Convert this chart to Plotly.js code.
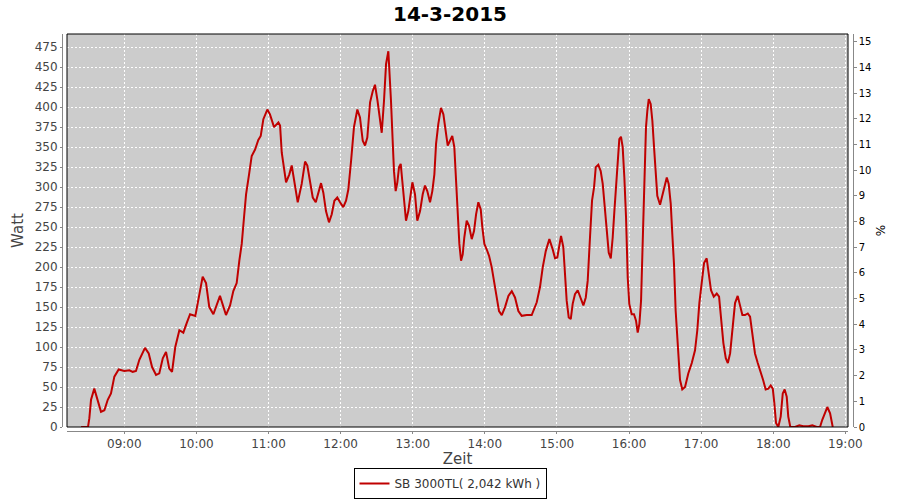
<!DOCTYPE html>
<html>
<head>
<meta charset="utf-8">
<script src="https://cdn.plot.ly/plotly-3.0.1.min.js"></script>
<style>html,body{margin:0;padding:0;background:#fff;}#chart{width:900px;height:500px;}</style>
</head>
<body>
<div id="chart"></div>
<script>
const chartTitle = '14-3-2015';
const dateStr = '2015-03-14';
const seriesName = 'SB 3000TL( 2,042 kWh )';
const xTitle = 'Zeit';
const yTitle = 'Watt';
const y2Title = '%';

const times = [
'08:24:00','08:29:48','08:30:54','08:32:18','08:35:00','08:37:54','08:40:36','08:43:24','08:46:12','08:48:54',
'08:51:42','08:55:18','09:00:00','09:04:12','09:07:00','09:09:42','09:12:30','09:17:12','09:20:18','09:23:06',
'09:26:24','09:29:06','09:32:00','09:34:42','09:37:24','09:39:42','09:42:24','09:45:48','09:49:06','09:51:54',
'09:54:42','09:59:06','10:01:54','10:05:12','10:08:00','10:10:42','10:14:06','10:16:54','10:19:36','10:24:36',
'10:28:00','10:30:42','10:33:30','10:35:42','10:37:42','10:39:36','10:41:18','10:43:48','10:46:00','10:48:48',
'10:51:30','10:53:30','10:55:42','10:59:00','11:01:12','11:04:36','11:08:12','11:09:36','11:11:00','11:14:36',
'11:17:18','11:19:18','11:21:12','11:24:18','11:27:36','11:30:24','11:32:18','11:34:30','11:36:48','11:39:18',
'11:41:24','11:43:42','11:45:36','11:47:48','11:50:18','11:52:36','11:54:48','11:57:12','11:59:30','12:02:12',
'12:04:30','12:06:24','12:08:42','12:11:06','12:13:54','12:16:06','12:18:24','12:20:18','12:22:12','12:24:30',
'12:26:42','12:28:36','12:30:42','12:32:48','12:34:12','12:36:06','12:37:48','12:39:42','12:40:30','12:41:54',
'12:43:18','12:44:24','12:45:48','12:47:12','12:48:36','12:50:00','12:51:18','12:53:00','12:54:24','12:56:18',
'12:57:42','12:59:42','13:01:54','13:03:48','13:06:06','13:08:18','13:10:12','13:12:06','13:14:24','13:16:18',
'13:18:00','13:19:24','13:21:18','13:23:30','13:25:30','13:27:30','13:29:06','13:31:00','13:32:54','13:34:36',
'13:35:48','13:37:24','13:38:48','13:40:12','13:41:36','13:42:54','13:44:54','13:46:48','13:49:06','13:51:00',
'13:52:42','13:54:36','13:56:36','13:57:54','13:59:36','14:01:36','14:03:30','14:05:42','14:07:54','14:09:54',
'14:11:48','14:14:06','14:16:48','14:19:36','14:22:24','14:25:06','14:27:54','14:30:42','14:34:54','14:39:00',
'14:43:12','14:45:54','14:48:12','14:50:42','14:53:42','14:56:30','14:58:24','15:00:18','15:02:00','15:03:24',
'15:05:18','15:06:42','15:08:06','15:09:48','15:11:30','15:13:06','15:15:00','15:17:18','15:19:48','15:22:00',
'15:24:00','15:25:36','15:27:30','15:29:12','15:30:54','15:32:18','15:34:24','15:36:24','15:38:06','15:39:24',
'15:41:24','15:43:06','15:44:48','15:46:24','15:47:48','15:49:12','15:50:36','15:51:54','15:53:18','15:54:42',
'15:56:06','15:57:30','15:58:54','16:00:12','16:02:12','16:04:06','16:05:48','16:07:12','16:08:36','16:10:00',
'16:11:24','16:12:42','16:14:06','16:15:12','16:16:24','16:18:00','16:19:24','16:20:48','16:22:12','16:23:30',
'16:25:48','16:27:42','16:29:24','16:31:24','16:33:00','16:34:42','16:36:00','16:37:24','16:38:48','16:40:12',
'16:41:36','16:42:24','16:44:18','16:46:36','16:49:18','16:52:12','16:54:54','16:56:48','16:58:30','17:00:30',
'17:02:24','17:04:36','17:06:36','17:08:12','17:10:30','17:13:00','17:14:54','17:16:30','17:18:30','17:20:30',
'17:22:12','17:24:06','17:26:00','17:28:12','17:30:24','17:32:24','17:34:18','17:36:30','17:38:48','17:40:42',
'17:42:36','17:44:48','17:47:06','17:49:12','17:51:30','17:53:42','17:55:54','17:57:54','17:59:36','18:00:54',
'18:02:18','18:04:12','18:06:12','18:07:54','18:09:30','18:11:12','18:12:30','18:14:12','18:18:06','18:21:42',
'18:25:00','18:29:12','18:32:30','18:36:12','18:38:54','18:40:48','18:43:06','18:45:00','18:47:18','18:49:30'
];

const watts = [
0,0,11,34,48,34,19,21,34,42,
63,72,70,71,69,70,84,99,92,75,
65,67,86,94,73,69,100,121,118,130,
141,139,163,188,180,150,141,152,164,140,
152,170,180,208,229,262,291,316,339,347,
359,364,385,397,391,375,381,377,343,306,
316,327,308,281,304,332,327,308,287,281,
293,305,293,270,256,266,283,287,281,275,
283,297,333,375,397,387,358,352,362,406,
420,428,408,379,368,408,454,470,450,408,
358,320,295,306,325,329,308,279,258,270,
283,306,291,258,270,291,302,295,281,295,
316,354,379,399,391,370,352,358,364,350,
312,279,229,208,216,237,258,252,235,245,
266,281,272,250,229,222,214,200,179,158,
145,140,150,164,170,162,145,139,140,140,
156,175,200,220,235,222,211,212,229,239,
225,195,158,137,135,154,166,171,162,152,
162,183,237,283,300,325,328,320,304,279,
245,218,211,237,270,304,333,360,363,350,
312,262,187,154,141,141,133,118,129,158,
233,304,375,395,410,404,383,350,316,289,
278,291,302,312,304,279,241,204,145,112,
83,59,47,50,67,80,96,121,155,184,
205,211,192,171,163,167,163,136,105,86,
80,92,121,155,164,152,140,140,142,138,
113,92,80,71,59,47,48,52,48,30,
5,0,13,42,47,38,13,0,0,2,
1,1,2,0,0,9,19,25,17,0
];

const xRange = ['08:12:18', '19:02:12'];
const yRange = [0, 491.5];
const y2Range = [0, 15.31];

const xs = times.map(t => dateStr + ' ' + t);
const FONT = 'DejaVu Sans, Verdana, sans-serif';

const traces = [
  {
    x: xs, y: watts, type: 'scatter', mode: 'lines', name: seriesName,
    line: {color: '#c00000', width: 2}, xaxis: 'x', yaxis: 'y'
  },
  {
    x: [xs[0]], y: [null], type: 'scatter', mode: 'lines', showlegend: false,
    hoverinfo: 'skip', xaxis: 'x', yaxis: 'y2'
  }
];

const layout = {
  width: 900, height: 500,
  margin: {l: 60, r: 40, t: 30, b: 65},
  paper_bgcolor: '#ffffff',
  plot_bgcolor: 'rgba(0,0,0,0)',
  font: {family: FONT, size: 12, color: '#444444'},
  title: {
    text: '<b>' + chartTitle + '</b>', x: 0.5, xanchor: 'center',
    y: 1 - 14/500, yanchor: 'middle', yref: 'container',
    font: {family: FONT, size: 20, color: '#000000'}
  },
  showlegend: true,
  legend: {
    orientation: 'h', x: 0.5, xanchor: 'center', xref: 'container',
    y: 1 - 499/500, yanchor: 'bottom', yref: 'container',
    bordercolor: '#000000', borderwidth: 1, bgcolor: '#ffffff',
    font: {family: FONT, size: 12, color: '#333333'}, itemwidth: 30
  },
  xaxis: {
    type: 'date', domain: [0.00875, 0.985],
    anchor: 'free', position: 0.00988,
    range: xRange.map(t => dateStr + ' ' + t),
    tick0: dateStr + ' 09:00:00', dtick: 3600000, tickformat: '%H:%M',
    showgrid: true, gridcolor: '#ffffff', griddash: '2px,2px', gridwidth: 1,
    zeroline: false, showline: true, linecolor: '#888888', linewidth: 1,
    ticks: 'outside', ticklen: 2, tickcolor: '#888888',
    tickfont: {family: FONT, size: 12, color: '#444444'},
    title: {text: xTitle, font: {family: FONT, size: 15, color: '#444444'}, standoff: 7}
  },
  yaxis: {
    domain: [0.01975, 0.99012],
    anchor: 'free', position: 0.0025,
    range: yRange, dtick: 25, tick0: 0,
    showgrid: true, gridcolor: '#ffffff', griddash: '2px,2px', gridwidth: 1,
    zeroline: false, showline: true, linecolor: '#888888', linewidth: 1,
    ticks: 'outside', ticklen: 2, tickcolor: '#888888',
    tickfont: {family: FONT, size: 12, color: '#444444'},
    title: {text: yTitle, font: {family: FONT, size: 15, color: '#444444'}, standoff: 6}
  },
  yaxis2: {
    overlaying: 'y', side: 'right', anchor: 'free', position: 0.99088,
    range: y2Range, dtick: 1, tick0: 0,
    showgrid: false, zeroline: false, showline: true, linecolor: '#888888', linewidth: 1,
    ticks: 'outside', ticklen: 3, tickcolor: '#888888',
    tickfont: {family: FONT, size: 10, color: '#000000'},
    title: {text: y2Title, font: {family: FONT, size: 12, color: '#000000'}, standoff: 6}
  },
  shapes: [
    {type: 'rect', xref: 'paper', yref: 'paper', x0: 0.00875, x1: 0.985, y0: 0.01975, y1: 0.99012,
     fillcolor: '#cccccc', line: {width: 0}, layer: 'below'},
    {type: 'rect', xref: 'paper', yref: 'paper', x0: 0.00875, x1: 0.985, y0: 0.01975, y1: 0.99012,
     fillcolor: 'rgba(0,0,0,0)', line: {color: '#000000', width: 1}, layer: 'above'}
  ]
};

Plotly.newPlot('chart', traces, layout, {displayModeBar: false, staticPlot: true});
</script>
</body>
</html>
